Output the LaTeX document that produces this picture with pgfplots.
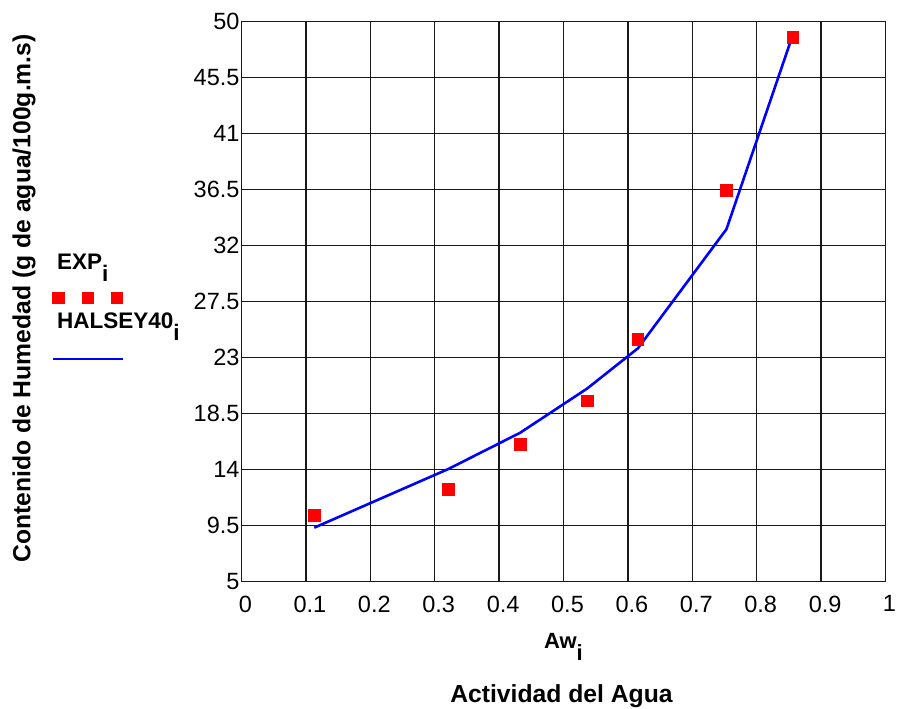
\documentclass[border=0pt]{standalone}
\usepackage{fontspec}
\setmainfont{Liberation Sans}
\usepackage{pgfplots}
\pgfplotsset{compat=1.18}
\newcommand{\sub}[1]{\raisebox{-0.52em}{#1}}
\begin{document}
\begin{tikzpicture}[x=1pt,y=1pt]
\path[use as bounding box] (0,0) rectangle (900,709);
\begin{axis}[
  at={(241.5pt,127.7pt)}, anchor=south west,
  scale only axis, width=644pt, height=560pt,
  xmin=0, xmax=1, ymin=5, ymax=50,
  xtick={0,0.1,0.2,0.3,0.4,0.5,0.6,0.7,0.8,0.9,1},
  ytick={5,9.5,14,18.5,23,27.5,32,36.5,41,45.5,50},
  grid=major, major grid style={black!90, line width=1.3pt},
  axis line style={black!90, line width=1.5pt},
  major tick length=0pt,
  tick label style={font=\fontsize{23.5}{28}\selectfont},
  /pgf/number format/assume math mode=true,
  xticklabel style={yshift=-11pt, xshift=4pt},
  yticklabel style={xshift=1.5pt},
  xlabel={Aw\sub{i}},
  xlabel style={at={(axis description cs:0.5,0)}, anchor=base, yshift=-67.5pt, font=\bfseries\fontsize{22}{26}\selectfont},
  ylabel={Contenido de Humedad (g de agua/100g.m.s)},
  ylabel style={at={(axis description cs:-0.3378,0.505)}, anchor=center, rotate=0, font=\bfseries\fontsize{24.7}{29}\selectfont},
  legend style={at={(axis description cs:-0.2896,0.588)}, anchor=north west, draw=none, fill=none, inner sep=0pt, row sep=38pt,
    font=\bfseries\fontsize{22.5}{27}\selectfont},
  legend cell align=left,
  clip=false,
]
\addplot[only marks, mark=square*, mark size=5.8pt, color=red, mark options={draw=none, fill=red},
  legend image code/.code={\path[overlay] plot coordinates {(3pt,-35pt) (32.5pt,-35pt) (61.5pt,-35pt)};}]
  coordinates {(0.113,10.33) (0.321,12.42) (0.4325,16.03) (0.5365,19.50) (0.6155,24.45) (0.753,36.42) (0.856,48.74)};
\addlegendentry{EXP\sub{i}}
\addplot[blue, line width=2.6pt,
  legend image code/.code={\draw[overlay] (-2pt,-37pt) -- (68pt,-37pt);}]
  coordinates {(0.113,9.31) (0.321,14.02) (0.4325,16.93) (0.5365,20.48) (0.6155,23.72) (0.753,33.29) (0.856,48.9)};
\addlegendentry{HALSEY40\sub{i}}
\node[anchor=base, font=\bfseries\fontsize{24.7}{29}\selectfont] at (axis description cs:0.5,0) [yshift=-121.5pt, xshift=-2pt] {Actividad del Agua};
\end{axis}
\end{tikzpicture}
\end{document}
